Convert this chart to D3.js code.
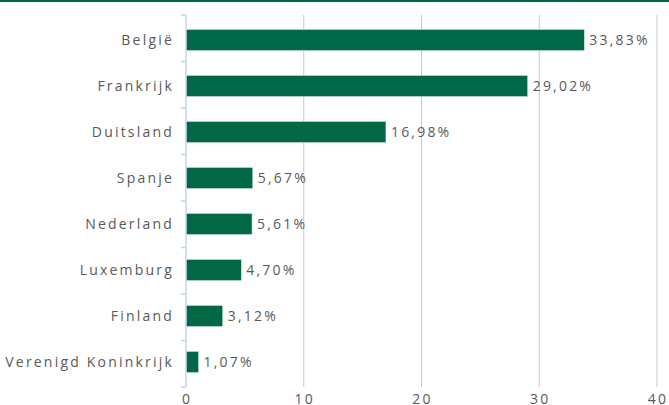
<!DOCTYPE html>
<html>
<head>
<meta charset="utf-8">
<script src="https://cdn.jsdelivr.net/npm/d3@7"></script>
<style>
	body { margin: 0; background: #fff; }
	svg { display: block; font-family: "Open Sans", sans-serif; }
	.lbl { fill: #595959; font-size: 14px; letter-spacing: 2.2px; }
</style>
</head>
<body>
<div id="chart"></div>
<script>
	// data
	var countries = ["België", "Frankrijk", "Duitsland", "Spanje", "Nederland", "Luxemburg", "Finland", "Verenigd Koninkrijk"];
	var shares = [33.83, 29.02, 16.98, 5.67, 5.61, 4.70, 3.12, 1.07];
	var xTicks = [0, 10, 20, 30, 40];

	var W = 669, H = 405;
	var margin = { top: 17, right: 12, bottom: 20, left: 186 };

	var svg = d3.select("#chart").append("svg")
		.attr("width", W)
		.attr("height", H);

	// green rule at the very top
	svg.append("rect")
		.attr("x", 0).attr("y", 0)
		.attr("width", W).attr("height", 2)
		.attr("fill", "#006847");

	var g = svg.append("g")
		.attr("transform", "translate(" + margin.left + "," + margin.top + ")");

	var x = d3.scaleLinear().domain([0, 40]).range([0, 471]);
	var y = d3.scaleBand().domain(countries).range([0, 368]).paddingInner(0.54).paddingOuter(0.27);

	// gridlines
	g.selectAll(".grid").data(xTicks.slice(1)).enter()
		.append("line")
		.attr("x1", function(d) { return x(d); })
		.attr("x2", function(d) { return x(d); })
		.attr("y1", -2).attr("y2", 370)
		.attr("stroke", "#c8c8c8").attr("stroke-width", 1);

	// x tick labels (cut off by the bottom edge, as in the original)
	g.selectAll(".xl").data(xTicks).enter()
		.append("text")
		.attr("class", "lbl")
		.attr("x", function(d) { return x(d) + 1; })
		.attr("y", 387)
		.attr("text-anchor", "middle")
		.text(function(d) { return d; });

	// bars
	g.selectAll(".bar").data(shares).enter()
		.append("rect")
		.attr("x", 0)
		.attr("y", function(d, i) { return y(countries[i]); })
		.attr("width", function(d) { return x(d); })
		.attr("height", y.bandwidth())
		.attr("fill", "#006847")
		.attr("stroke", "#d9e6df").attr("stroke-width", 0.6);

	// value labels
	g.selectAll(".val").data(shares).enter()
		.append("text")
		.attr("class", "lbl")
		.attr("x", function(d) { return x(d) + 5; })
		.attr("y", function(d, i) { return y(countries[i]) + y.bandwidth() / 2; })
		.attr("dy", "0.36em")
		.text(function(d) { return d.toFixed(2).replace(".", ",") + "%"; });

	// category axis
	g.append("line")
		.attr("x1", 0).attr("x2", 0)
		.attr("y1", -2).attr("y2", 370)
		.attr("stroke", "#c5d3e8").attr("stroke-width", 1.5);

	var bounds = d3.range(countries.length + 1).map(function(i) { return -2 + i * 372 / countries.length; });
	g.selectAll(".ytick").data(bounds).enter()
		.append("line")
		.attr("x1", -5).attr("x2", 0)
		.attr("y1", function(d) { return d; })
		.attr("y2", function(d) { return d; })
		.attr("stroke", "#c5d3e8").attr("stroke-width", 1.5);

	g.selectAll(".cl").data(countries).enter()
		.append("text")
		.attr("class", "lbl")
		.attr("x", -12)
		.attr("y", function(d) { return y(d) + y.bandwidth() / 2; })
		.attr("dy", "0.36em")
		.attr("text-anchor", "end")
		.text(function(d) { return d; });
</script>
</body>
</html>
